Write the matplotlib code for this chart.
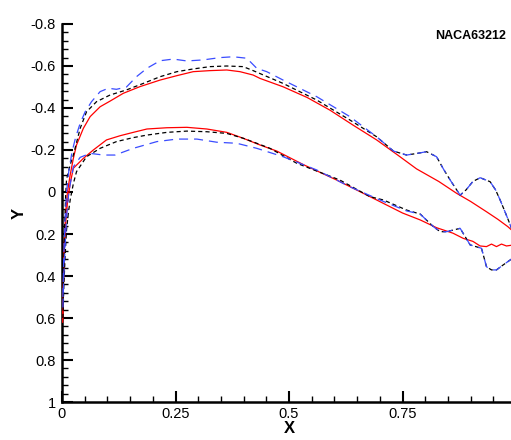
import matplotlib
matplotlib.use("Agg")
import matplotlib.pyplot as plt
from matplotlib.ticker import FixedLocator, MultipleLocator

plt.rcParams['font.family'] = ['Liberation Sans', 'DejaVu Sans']
plt.rcParams['lines.scale_dashes'] = False

# ---- pressure-coefficient style distributions (x along chord, Y plotted inverted) ----
red_upper_x = [0.0015, 0.003, 0.005, 0.008, 0.012, 0.018, 0.025, 0.032, 0.047, 0.062, 0.084, 0.106,
               0.135, 0.172, 0.216, 0.253, 0.289, 0.326, 0.363, 0.392, 0.421, 0.436, 0.487, 0.54,
               0.59, 0.64, 0.693, 0.74, 0.781, 0.83, 0.869, 0.90, 0.935, 0.96, 0.982, 0.995]
red_upper_y = [0.60, 0.45, 0.25, 0.10, 0.0, -0.081, -0.16, -0.224, -0.303, -0.359, -0.406, -0.433,
               -0.47, -0.502, -0.533, -0.554, -0.573, -0.578, -0.581, -0.573, -0.557, -0.541, -0.501, -0.45,
               -0.39, -0.32, -0.248, -0.175, -0.11, -0.05, 0.006, 0.045, 0.094, 0.13, 0.165, 0.19]

red_lower_x = [0.0015, 0.003, 0.005, 0.008, 0.012, 0.018, 0.025, 0.047, 0.069, 0.098, 0.128, 0.157,
               0.187, 0.231, 0.275, 0.319, 0.363, 0.399, 0.436, 0.473, 0.532, 0.605, 0.693, 0.75,
               0.789, 0.825, 0.861, 0.884, 0.905, 0.921, 0.935, 0.946, 0.957, 0.968, 0.979, 0.995]
red_lower_y = [0.62, 0.45, 0.28, 0.15, 0.05, -0.04, -0.113, -0.16, -0.2, -0.248, -0.268, -0.284,
               -0.30, -0.306, -0.308, -0.30, -0.284, -0.256, -0.224, -0.195, -0.13, -0.057, 0.038, 0.10,
               0.133, 0.17, 0.196, 0.221, 0.235, 0.257, 0.26, 0.248, 0.26, 0.248, 0.257, 0.252]

black_upper_x = [0.002, 0.004, 0.006, 0.008, 0.010, 0.018, 0.025, 0.040, 0.054, 0.076, 0.106, 0.142,
                 0.179, 0.216, 0.253, 0.289, 0.326, 0.363, 0.399, 0.421, 0.487, 0.561, 0.634, 0.693,
                 0.730, 0.759, 0.78, 0.803, 0.825, 0.84, 0.855, 0.877, 0.89, 0.905, 0.921, 0.943,
                 0.955, 0.965, 0.975, 0.983, 0.995]
black_upper_y = [0.55, 0.35, 0.15, 0.02, -0.06, -0.13, -0.176, -0.303, -0.382, -0.43, -0.462, -0.486,
                 -0.517, -0.549, -0.573, -0.586, -0.597, -0.60, -0.597, -0.578, -0.517, -0.438, -0.343, -0.263,
                 -0.195, -0.176, -0.183, -0.192, -0.168, -0.11, -0.057, 0.015, -0.01, -0.05, -0.068, -0.049,
                 -0.01, 0.038, 0.09, 0.133, 0.20]

black_lower_x = [0.002, 0.004, 0.007, 0.010, 0.014, 0.018, 0.025, 0.032, 0.054, 0.084, 0.120, 0.157,
                 0.187, 0.231, 0.275, 0.319, 0.363, 0.399, 0.429, 0.458, 0.517, 0.612, 0.678, 0.708,
                 0.759, 0.789, 0.818, 0.833, 0.847, 0.877, 0.899, 0.924, 0.935, 0.946, 0.957, 0.970,
                 0.987, 0.995]
black_lower_y = [0.60, 0.45, 0.30, 0.18, 0.10, 0.038, -0.04, -0.097, -0.168, -0.208, -0.24, -0.259,
                 -0.271, -0.284, -0.29, -0.287, -0.279, -0.256, -0.232, -0.208, -0.137, -0.057, 0.022, 0.038,
                 0.086, 0.105, 0.165, 0.189, 0.189, 0.173, 0.252, 0.268, 0.356, 0.371, 0.371, 0.35,
                 0.324, 0.31]

blue_upper_x = [0.002, 0.004, 0.007, 0.010, 0.015, 0.022, 0.030, 0.040, 0.051, 0.065, 0.084, 0.102,
                0.12, 0.142, 0.164, 0.187, 0.216, 0.245, 0.275, 0.311, 0.348, 0.377, 0.407, 0.429,
                0.451, 0.487, 0.561, 0.634, 0.693, 0.730, 0.759, 0.78, 0.803, 0.825, 0.84, 0.855,
                0.877, 0.89, 0.905, 0.921, 0.943, 0.955, 0.965, 0.975, 0.983, 0.995]
blue_upper_y = [0.50, 0.30, 0.12, 0.0, -0.10, -0.19, -0.26, -0.327, -0.382, -0.43, -0.478, -0.494,
                -0.489, -0.50, -0.549, -0.589, -0.625, -0.633, -0.624, -0.629, -0.640, -0.644, -0.637, -0.589,
                -0.573, -0.533, -0.454, -0.359, -0.263, -0.195, -0.176, -0.183, -0.192, -0.168, -0.11, -0.057,
                0.015, -0.01, -0.05, -0.068, -0.049, -0.01, 0.038, 0.09, 0.133, 0.20]

blue_lower_x = [0.002, 0.004, 0.007, 0.010, 0.015, 0.025, 0.040, 0.062, 0.091, 0.117, 0.157, 0.209,
                0.253, 0.297, 0.341, 0.385, 0.429, 0.487, 0.561, 0.634, 0.708, 0.759, 0.789, 0.818,
                0.833, 0.847, 0.877, 0.899, 0.924, 0.935, 0.946, 0.957, 0.970, 0.987, 0.995]
blue_lower_y = [0.55, 0.40, 0.25, 0.12, 0.0, -0.12, -0.165, -0.184, -0.176, -0.176, -0.208, -0.24,
                -0.252, -0.252, -0.237, -0.232, -0.208, -0.168, -0.105, -0.025, 0.045, 0.09, 0.105, 0.165,
                0.189, 0.189, 0.173, 0.252, 0.268, 0.356, 0.371, 0.371, 0.35, 0.324, 0.31]

x_ticks = [0, 0.25, 0.5, 0.75]
x_tick_labels = ['0', '0.25', '0.5', '0.75']
y_ticks = [-0.8, -0.6, -0.4, -0.2, 0, 0.2, 0.4, 0.6, 0.8, 1]
y_tick_labels = ['-0.8', '-0.6', '-0.4', '-0.2', '0', '0.2', '0.4', '0.6', '0.8', '1']

W, H = 511, 440
fig = plt.figure(figsize=(W / 100, H / 100), dpi=100)
ax = fig.add_axes([62 / W, 38 / H, 449 / W, 378 / H])

red = '#ff0000'
black = '#000000'
blue = '#3a4cff'

ax.plot(red_upper_x, red_upper_y, color=red, lw=0.9, zorder=3)
ax.plot(red_lower_x, red_lower_y, color=red, lw=0.9, zorder=3)
ax.plot(black_upper_x, black_upper_y, color=black, lw=0.9, ls=(0, (3.0, 2.2)), zorder=4)
ax.plot(black_lower_x, black_lower_y, color=black, lw=0.9, ls=(0, (3.0, 2.2)), zorder=4)
ax.plot(blue_upper_x, blue_upper_y, color=blue, lw=0.9, ls=(0, (6.5, 4.3)), zorder=5)
ax.plot(blue_lower_x, blue_lower_y, color=blue, lw=0.9, ls=(0, (6.5, 4.3)), zorder=5)

ax.set_xlim(0, 449 / 454)
ax.set_ylim(1, -0.8)

for side in ('top', 'right'):
    ax.spines[side].set_visible(False)
for side in ('left', 'bottom'):
    ax.spines[side].set_linewidth(1.8)

ax.xaxis.set_major_locator(FixedLocator(x_ticks))
ax.set_xticklabels(x_tick_labels)
ax.xaxis.set_minor_locator(MultipleLocator(0.05))
ax.yaxis.set_major_locator(FixedLocator(y_ticks))
ax.set_yticklabels(y_tick_labels)
ax.yaxis.set_minor_locator(MultipleLocator(0.04))

ax.tick_params(which='major', direction='in', length=8, width=1.5, labelsize=10.5,
               top=False, right=False)
ax.tick_params(which='minor', direction='in', length=4.5, width=1.0, top=False, right=False)
ax.tick_params(axis='y', which='major', pad=4.5)
ax.tick_params(axis='x', which='major', pad=3.5)

fig.text(289 / W, 1 - 428 / H, 'X', ha='center', va='center', fontsize=12, fontweight='bold')
fig.text(19 / W, 1 - 213 / H, 'Y', ha='center', va='center', fontsize=12, fontweight='bold',
         rotation=90)
fig.text(506 / W, 1 - 36 / H, 'NACA63212', ha='right', va='center', fontsize=9,
         fontweight='bold')

fig.savefig('out.png', dpi=100)
